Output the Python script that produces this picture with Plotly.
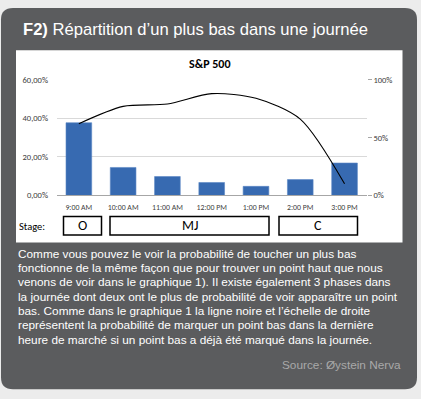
import plotly.graph_objects as go

W, H = 421, 399

# ---- data ----
hours = ["9:00 AM", "10:00 AM", "11:00 AM", "12:00 PM", "1:00 PM", "2:00 PM", "3:00 PM"]
low_share = [0.377, 0.145, 0.098, 0.067, 0.047, 0.082, 0.168]          # left axis (bars)
prob_last_hour = [0.62, 0.77, 0.79, 0.88, 0.84, 0.66, 0.10]             # right axis (line)
left_ticks = [0, 0.2, 0.4, 0.6]
left_ticktext = ["0,00%", "20,00%", "40,00%", "60,00%"]
right_ticks = [0, 0.5, 1.0]
right_ticktext = ["0%", "50%", "100%"]
stages = ["O", "MJ", "C"]

title_main = "Répartition d’un plus bas dans une journée"
paragraph = [
    "Comme vous pouvez le voir la probabilité de toucher un plus bas",
    "fonctionne de la même façon que pour trouver un point haut que nous",
    "venons de voir dans le graphique 1). Il existe également 3 phases dans",
    "la journée dont deux ont le plus de probabilité de voir apparaître un point",
    "bas. Comme dans le graphique 1 la ligne noire et l’échelle de droite",
    "représentent la probabilité de marquer un point bas dans la dernière",
    "heure de marché si un point bas a déjà été marqué dans la journée.",
]
source = "Source: Øystein Nerva"


def px(x):
    return x / W


def py(y):
    return 1 - y / H


CARD = "#5b5c5e"
SANS = "Liberation Sans, Arial, Helvetica, sans-serif"
CAL = "Carlito, Calibri, Liberation Sans, sans-serif"

fig = go.Figure()
fig.add_trace(go.Bar(
    x=hours, y=low_share, marker=dict(color="#376ab1", line=dict(color="#5b87c4", width=0.6)),
    yaxis="y", showlegend=False, hoverinfo="skip"))
fig.add_trace(go.Scatter(
    x=hours, y=prob_last_hour, mode="lines", line=dict(color="black", width=1.1, shape="spline", smoothing=0.8),
    yaxis="y2", showlegend=False, hoverinfo="skip"))

shapes = []
# rounded card
x0, x1, y0, y1, r = px(1), px(417), py(3), py(394), 12
rx, ry = r / W, r / H
path = (f"M {x0+rx},{y0} L {x1-rx},{y0} Q {x1},{y0} {x1},{y0-ry} "
        f"L {x1},{y1+ry} Q {x1},{y1} {x1-rx},{y1} L {x0+rx},{y1} Q {x0},{y1} {x0},{y1+ry} "
        f"L {x0},{y0-ry} Q {x0},{y0} {x0+rx},{y0} Z")
shapes.append(dict(type="path", path=path, xref="paper", yref="paper",
                   fillcolor=CARD, line=dict(width=0), layer="below"))
# white chart panel
shapes.append(dict(type="rect", xref="paper", yref="paper", x0=px(16), x1=px(402.5), y0=py(243.5), y1=py(46.5),
                   fillcolor="white", line=dict(width=0), layer="below"))
# stage boxes
boxes = [(63.5, 101.5), (110, 269), (279, 357.5)]
for (bx0, bx1) in boxes:
    shapes.append(dict(type="rect", xref="paper", yref="paper", x0=px(bx0), x1=px(bx1), y0=py(236), y1=py(217),
                       fillcolor="rgba(0,0,0,0)", line=dict(color="black", width=1.5), layer="above"))

annotations = []
annotations.append(dict(x=px(21), y=py(25), xref="paper", yref="paper", xanchor="left", yanchor="middle",
                        showarrow=False, text="<b>F2)</b> " + title_main,
                        font=dict(family=SANS, size=16.6, color="white")))
annotations.append(dict(x=px(209), y=py(61), xref="paper", yref="paper", xanchor="center", yanchor="middle",
                        showarrow=False, text="<b>S&P 500</b>",
                        font=dict(family=CAL, size=12, color="black")))
annotations.append(dict(x=px(17), y=py(227), xref="paper", yref="paper", xanchor="left", yanchor="middle",
                        showarrow=False, text="Stage:",
                        font=dict(family=CAL, size=10.5, color="black")))
for (bx0, bx1), s in zip(boxes, stages):
    annotations.append(dict(x=px((bx0 + bx1) / 2), y=py(226.5), xref="paper", yref="paper", xanchor="center",
                            yanchor="middle", showarrow=False, text=s,
                            font=dict(family=CAL, size=14, color="black")))
line_y = [255, 270, 284.5, 299, 314, 328.5, 343.5, 358.5]
for i, t in enumerate(paragraph):
    annotations.append(dict(x=px(16), y=py(line_y[i]), xref="paper", yref="paper", xanchor="left", yanchor="middle",
                            showarrow=False, text=t, font=dict(family=SANS, size=11.8, color="white")))
annotations.append(dict(x=px(403), y=py(369), xref="paper", yref="paper", xanchor="right", yanchor="middle",
                        showarrow=False, text=source, font=dict(family=SANS, size=11.8, color="#a9a9a9")))

axis_font = dict(family=CAL, size=8.5, color="#404040")

fig.update_layout(
    width=W, height=H, margin=dict(l=0, r=0, t=0, b=0),
    paper_bgcolor="#ececec", plot_bgcolor="rgba(0,0,0,0)",
    bargap=0.42, showlegend=False,
    xaxis=dict(domain=[px(56.7), px(366.7)], type="category", range=[-0.5, 6.5],
               showgrid=False, showline=True, linecolor="#a6a6a6", linewidth=1,
               ticks="outside", ticklen=4, tickcolor="rgba(0,0,0,0)",
               tickfont=dict(family=CAL, size=7.8, color="#404040"),
               fixedrange=True),
    yaxis=dict(domain=[py(195.3), py(76.7)], range=[0, 0.6], tickvals=left_ticks, ticktext=left_ticktext,
               showgrid=True, gridcolor="#d9d9d9", gridwidth=1, zeroline=False, showline=False,
               ticks="outside", ticklen=6, tickcolor="rgba(0,0,0,0)", tickfont=axis_font, fixedrange=True),
    yaxis2=dict(overlaying="y", side="right", anchor="x", range=[0, 1.0], tickvals=right_ticks,
                ticktext=right_ticktext, showgrid=False, zeroline=False, showline=False,
                ticks="outside", ticklen=4, tickcolor="#a6a6a6", tickfont=axis_font, fixedrange=True),
    shapes=shapes, annotations=annotations,
)

fig.write_html("out.html", config={"displayModeBar": False},
               post_script="document.body.style.margin='0';document.body.style.padding='0';")
